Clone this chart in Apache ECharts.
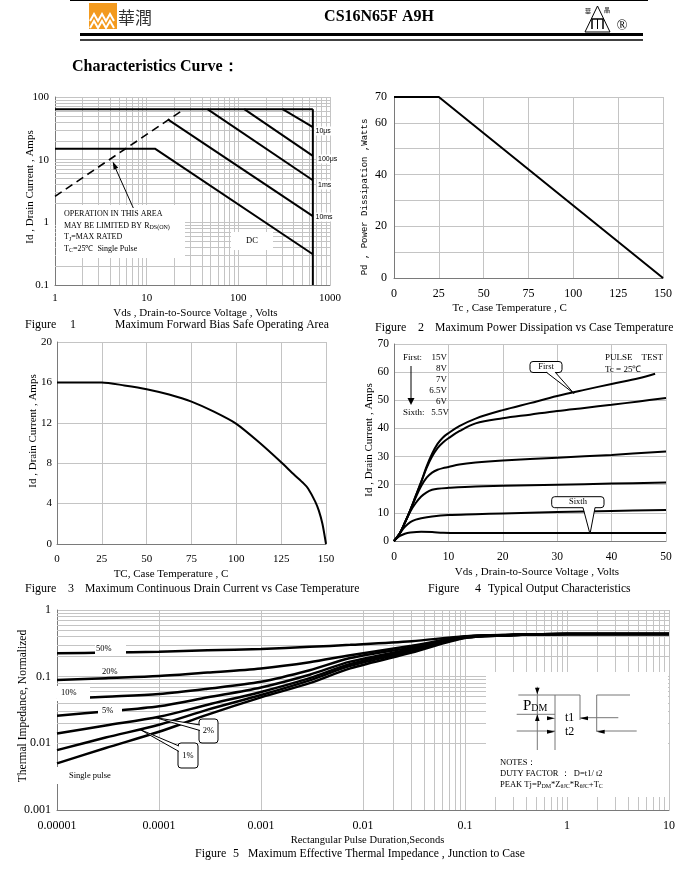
<!DOCTYPE html>
<html><head><meta charset="utf-8">
<script src="https://cdn.jsdelivr.net/npm/echarts@6/dist/echarts.min.js"></script>
<style>html,body{margin:0;padding:0;background:#fff}#c{width:700px;height:873px}</style>
</head><body><div id="c"></div><script>
// ---------- Figure 1 : Safe operating area ----------
const soaVdsLabels = ['1','10','100','1000'];
const soaIdLabels = ['0.1','1','10','100'];
const soaPulseLimit = [[1,64],[650,64]];
const soaVoltageLimit = [[650,64],[650,0.1]];
const soaRdsOn = [[1,2.6],[25.7,64]];
const soaDC = [[1,15],[12.3,15],[650,0.31]];
const soa10ms = [[17,44],[650,1.26]];
const soa1ms = [[46,64],[650,4.7]];
const soa100us = [[116,64],[650,11.5]];
const soa10us = [[304,64],[650,33]];
// ---------- Figure 2 : Power dissipation ----------
const pdTemp = [0,25,150];
const pdWatts = [70,70,0];
const pdWattLabels = [0,20,40,60,70];
// ---------- Figure 3 : Continuous drain current ----------
const idTemp = [0,25,37.5,50,62.5,75,87.5,100,112.5,125,132,137.5,140,144,146,148,150];
const idAmps = [16,16,15.7,15.33,14.8,14.1,13.1,11.9,10.1,8.1,6.9,6.0,5.5,4.2,3.3,2.0,0];
// ---------- Figure 4 : Output characteristics ----------
const oc15V = [[0,0],[1,2.5],[2,6.5],[3,11],[4,16],[5,21],[6,26.5],[7,31],[8,34.5],[9,36.8],[10,38.3],[12,40.8],[15,43.5],[20,46.5],[25,49],[30,51.5],[35,53.7],[40,55.8],[45,57.8],[48,59.4]];
const oc8V = [[0,0],[1,2.5],[2,6.5],[3,11],[4,16],[5,21],[6,26],[7,30],[8,33],[9,35],[10,36.5],[12,39],[15,41.8],[20,43.6],[25,44.9],[30,46.2],[35,47.3],[40,48.4],[45,49.6],[50,50.8]];
const oc7V = [[0,0],[1,2.5],[2,6.5],[3,11],[4,15.5],[5,19.5],[6,22.5],[7,24.3],[8,25.3],[9,25.9],[10,26.3],[12,27.2],[15,27.9],[20,28.6],[30,29.6],[40,30.6],[50,31.8]];
const oc6p5V = [[0,0],[1,2.5],[2,6.5],[3,10.5],[4,13.5],[5,15.8],[6,17.3],[7,18.2],[8,18.6],[10,18.9],[15,19.4],[20,19.6],[30,20],[40,20.4],[50,20.8]];
const oc6V = [[0,0],[1,2.5],[2,5],[3,6.7],[4,7.6],[5,8.1],[7,8.7],[10,9.2],[15,9.5],[20,9.8],[30,10.3],[40,10.7],[50,11]];
const oc5p5V = [[0,0],[1,1.7],[2,2.6],[3,3.0],[5,3.3],[7,3.2],[9,2.9],[12,2.8],[20,2.8],[50,2.8]];
// ---------- Figure 5 : Transient thermal impedance ----------
const zthTimeLabels = ['0.00001','0.0001','0.001','0.01','0.1','1','10'];
const zthLabels = ['0.001','0.01','0.1','1'];
const zthTime = [1e-5,3e-5,1e-4,3e-4,1e-3,3e-3,7.5e-3,3e-2,0.1,0.3,1,10];
const zth50 = [0.224,0.23,0.237,0.248,0.26,0.28,0.30,0.34,0.405,0.425,0.435,0.435];
const zth20 = [0.089,0.095,0.102,0.115,0.133,0.165,0.21,0.29,0.40,0.425,0.435,0.435];
const zth10 = [0.046,0.05,0.055,0.066,0.084,0.125,0.19,0.275,0.395,0.42,0.435,0.435];
const zth5 = [0.026,0.03,0.036,0.049,0.069,0.107,0.168,0.26,0.39,0.42,0.435,0.435];
const zth2 = [0.014,0.0185,0.025,0.038,0.059,0.095,0.155,0.25,0.385,0.42,0.435,0.435];
const zth1 = [0.0079,0.0122,0.019,0.032,0.053,0.088,0.145,0.24,0.385,0.42,0.435,0.435];
const zthSingle = [0.005,0.0085,0.0149,0.027,0.049,0.08,0.133,0.23,0.38,0.42,0.435,0.435];

// ---------- helpers ----------
const SERIF = '"Liberation Serif", "Times New Roman", serif';
const GRID_C = '#c4c4c4';
function decadeLines(lo, hi){ const o=[]; for(let e=lo;e<hi;e++) for(let m=2;m<=9;m++) o.push(+(m*Math.pow(10,e)).toPrecision(3)); return o; }
function logFmt(labels, minExp){ return v => labels[Math.round(Math.log10(v)) - minExp] || ''; }
function ax(extra, lab){
  return Object.assign({
    axisLine:{show:true,onZero:false,lineStyle:{color:'#7a7a7a',width:1}},
    axisTick:{show:false},
    splitLine:{show:true,lineStyle:{color:GRID_C,width:1}},
    axisLabel:Object.assign({color:'#000',fontFamily:SERIF,fontSize:12},lab||{})
  }, extra);
}
function minorGrid(xs, ys){
  return {silent:true,symbol:'none',z:1,animation:false,label:{show:false},emphasis:{disabled:true},
    lineStyle:{color:GRID_C,width:1,type:'solid'},
    data:[...xs.map(v=>({xAxis:v})),...ys.map(v=>({yAxis:v}))]};
}
function ln(name, gi, data, extra){
  return Object.assign({type:'line',name,xAxisIndex:gi,yAxisIndex:gi,data,showSymbol:false,symbol:'none',
    silent:true,animation:false,z:3,lineStyle:{color:'#000',width:2}}, extra||{});
}

// ---------- graphic helpers ----------
const G = [];
function T(x,y,text,o){ o=o||{}; const al=o.align||'left';
  G.push({type:'text',x,y,rotation:o.rot||0,z:o.z||102,silent:true,
    style:Object.assign({text,fill:o.fill||'#000',font:o.font||('12px '+SERIF),align:al,textAlign:al,verticalAlign:'middle',textVerticalAlign:'middle'},o.style||{})}); }
function L(pts,o){ o=o||{}; G.push({type:'polyline',z:o.z||101,silent:true,shape:{points:pts},style:{stroke:o.c||'#000',lineWidth:o.w||1,fill:null,lineDash:o.dash||null}}); }
function R(x,y,w,h,o){ o=o||{}; G.push({type:'rect',z:o.z||99,silent:true,shape:{x,y,width:w,height:h,r:o.r||0},style:{fill:o.fill||'#fff',stroke:o.stroke||null,lineWidth:o.w||1}}); }
function P(pts,o){ o=o||{}; G.push({type:'polygon',z:o.z||101,silent:true,shape:{points:pts},style:{fill:o.fill||'#000',stroke:o.stroke||null,lineWidth:o.w||1}}); }
function arrowHead(x1,y1,x2,y2,len,half,o){ const dx=x2-x1,dy=y2-y1,d=Math.hypot(dx,dy),ux=dx/d,uy=dy/d,bx=x2-ux*len,by=y2-uy*len;
  P([[x2,y2],[bx-uy*half,by+ux*half],[bx+uy*half,by-ux*half]],o); }
function caption(y,x0,num,x1,x2,rest){
  const f='12px '+SERIF; T(x0,y,'Figure',{font:f}); T(x1,y,num,{font:f}); T(x2,y,rest,{font:'11.7px '+SERIF});
}
const SUB = {s:{fontSize:6,fontFamily:SERIF,verticalAlign:'bottom',padding:[4,0,0,0]}};

// header
L([[70,0.5],[648,0.5]],{w:1});
R(89,3,28,26,{fill:'#F39A1E',z:100});
L([[90,21],[94,14],[98,21],[102,14],[106,21],[110,14],[114,21]],{c:'#fff',w:2});
L([[90,28],[94,21],[98,28],[102,21],[106,28],[110,21],[114,28]],{c:'#fff',w:2});
T(118,18,'華潤',{font:'17px "Noto Sans CJK TC"',fill:'#333'});
T(379,17,'CS16N65F A9H',{font:'bold 16px '+SERIF,align:'center'});
L([[585,32],[597.5,6],[610,32],[585,32]],{w:1});
L([[592,29],[592,19],[603,19],[603,29]],{w:1.5});
L([[597.5,19],[597.5,29]],{w:1});
T(588,11,'華',{font:'6px "Noto Sans CJK TC"',align:'center'});
T(607,10,'晶',{font:'6px "Noto Sans CJK TC"',align:'center'});
T(622,26,'®',{font:'14px '+SERIF,align:'center'});
R(80,33,563,3,{fill:'#000',z:100});
R(80,39.3,563,1.5,{fill:'#000',z:100});
T(72,67,'Characteristics Curve：',{font:'bold 16px '+SERIF});

// figure 1 annotations
R(56,205,129,53);
T(64,213.5,'OPERATION IN THIS AREA',{font:'8px '+SERIF});
T(64,225.5,'MAY BE LIMITED BY R{s|DS(ON)}',{font:'8px '+SERIF,style:{rich:SUB}});
T(64,237,'T{s|J}=MAX RATED',{font:'8px '+SERIF,style:{rich:SUB}});
T(64,248.5,'T{s|C}=25℃  Single Pulse',{font:'8px '+SERIF,style:{rich:SUB}});
L([[133.3,208],[114,165]],{w:1});
arrowHead(133.3,208,112.7,161.5,8,2.5);
R(231,232,42,18);
T(252,241,'DC',{font:'8.5px '+SERIF,align:'center'});
const soaLbl = [['10μs',314.5,131],['100μs',317,159],['1ms',317,185],['10ms',314.5,217]];
soaLbl.forEach(a=>T(a[1],a[2],a[0],{font:'7px "Liberation Sans"',style:{backgroundColor:'#fff',padding:[1,1]}}));
T(195.5,313,'Vds , Drain-to-Source Voltage , Volts',{align:'center',font:'11px '+SERIF});
T(30,187,'Id , Drain Current , Amps',{align:'center',rot:Math.PI/2,font:'11px '+SERIF});
caption(324.5,25,'1',70,115,'Maximum Forward Bias Safe Operating Area');
// figure 2
T(509.7,308,'Tc , Case Temperature , C',{align:'center',font:'11px '+SERIF});
T(365,197,'Pd , Power Dissipation ,Watts',{align:'center',rot:Math.PI/2,font:'9px "Liberation Mono"'});
caption(327.5,375,'2',418,435,'Maximum Power Dissipation vs Case Temperature');
// figure 3
T(171,574.5,'TC, Case Temperature , C',{align:'center',font:'11px '+SERIF});
T(33,431,'Id , Drain Current , Amps',{align:'center',rot:Math.PI/2,font:'11px '+SERIF});
caption(589,25,'3',68,85,'Maximum Continuous Drain Current vs Case Temperature');
// figure 4
T(537,572.5,'Vds , Drain-to-Source Voltage , Volts',{align:'center',font:'11px '+SERIF});
T(369,440,'Id , Drain Current , Amps',{align:'center',rot:Math.PI/2,font:'11px '+SERIF});
caption(588.5,428,'4',475,488,'Typical Output Characteristics');
const F9 = '9px '+SERIF;
T(403,358,'First:',{font:F9}); T(447,358,'15V',{font:F9,align:'right'});
T(447,369,'8V',{font:F9,align:'right'});
T(447,380,'7V',{font:F9,align:'right'});
T(447,391,'6.5V',{font:F9,align:'right'});
T(447,402,'6V',{font:F9,align:'right'});
T(403,412.5,'Sixth:',{font:F9}); T(449,412.5,'5.5V',{font:F9,align:'right'});
L([[411,366],[411,399]],{w:1});
arrowHead(411,366,411,405,7,3.5);
T(605,358,'PULSE    TEST',{font:F9});
T(605,369.5,'Tc = 25℃',{font:F9});
R(530,361.5,32,11,{r:3,stroke:'#000',z:103});
P([[546,371.5],[555,371.5],[574,393.5]],{fill:'#fff',z:104});
L([[546,372],[574,393.5],[555,372]],{z:104});
T(546,367,'First',{font:'8.5px '+SERIF,align:'center',z:105});
R(551.7,496.7,52.3,11,{r:3,stroke:'#000',z:103});
P([[583,507],[595,507],[590,534]],{fill:'#fff',z:104});
L([[583,507.7],[590,534],[595,507.7]],{z:104});
T(578,502,'Sixth',{font:'8.5px '+SERIF,align:'center',z:105});
// figure 5
const F85 = '8.5px '+SERIF;
R(95,642.5,31,12); T(96,648.3,'50%',{font:F85});
R(100,665,20,11); T(102,671.7,'20%',{font:F85});
R(57,686,33,15); T(61,692.7,'10%',{font:F85});
R(98,704,24,14); T(102,711,'5%',{font:F85});
R(56,767,81,17); T(69,776,'Single pulse',{font:F85});
R(199,719,19,24,{r:3,stroke:'#000',z:103});
P([[155,717.5],[200,725],[200,730.5]],{fill:'#fff',z:104});
L([[200,725],[155,717.5],[200,730.5]],{z:104});
T(208.5,731,'2%',{font:F85,align:'center',z:105});
R(178,743,20,25,{r:3,stroke:'#000',z:103});
P([[140,729.5],[179,746],[179,751.5]],{fill:'#fff',z:104});
L([[179,746],[140,729.5],[179,751.5]],{z:104});
T(188,756,'1%',{font:F85,align:'center',z:105});
// PDM diagram
R(486,672,182,125);
const GC = {c:'#777',w:1};
L([[537.3,686.7],[537.3,750]],GC);
L([[518.3,695],[580,695],[580,720]],GC);
L([[555,695],[555,750]],GC);
L([[516.7,714.3],[555,714.3]],GC);
L([[580,717.7],[618.3,717.7]],GC);
L([[596.7,731.7],[596.7,695],[630,695]],GC);
L([[516.7,731],[555,731]],GC);
L([[596.7,731],[636.7,731]],GC);
P([[535,687.7],[539.6,687.7],[537.3,694.3]]);
P([[535,721],[539.6,721],[537.3,714.3]]);
P([[547,716.3],[547,720.3],[555,718.3]]);
P([[588,716.3],[588,720.3],[580,718.3]]);
P([[547,729.7],[547,733.7],[555,731.7]]);
P([[604.7,729.7],[604.7,733.7],[596.7,731.7]]);
T(523,706,'P{d|DM}',{font:'15px '+SERIF,style:{rich:{d:{fontSize:10,fontFamily:SERIF,verticalAlign:'bottom'}}}});
T(565,718.3,'t1',{font:'12px '+SERIF});
T(565,731.7,'t2',{font:'12px '+SERIF});
T(500,762.7,'NOTES：',{font:F85});
T(500,774,'DUTY FACTOR ：  D=t1/ t2',{font:F85});
T(500,784.5,'PEAK Tj=P{s|DM}*Z{s|θJC}*R{s|θJC}+T{s|C}',{font:F85,style:{rich:SUB}});
T(367.5,840,'Rectangular Pulse Duration,Seconds',{align:'center',font:'10.5px '+SERIF});
T(23,706,'Thermal Impedance, Normalized',{align:'center',rot:Math.PI/2,font:'11.5px '+SERIF});
caption(854,195,'5',233,248,'Maximum Effective Thermal Impedance , Junction to Case');

// ---------- chart ----------
const chart = echarts.init(document.getElementById('c'), null, {renderer:'canvas',width:700,height:873});
const zthData = arr => zthTime.map((t,i)=>[t,arr[i]]);
const SM = {smooth:0.35};
const Z5 = {smooth:0.3,lineStyle:{color:'#000',width:2.5}};
const option = {
  backgroundColor:'#fff',
  animation:false,
  grid:[
    {left:55,top:97,width:275,height:188,outerBoundsMode:'none'},
    {left:394,top:97,width:269,height:181,outerBoundsMode:'none'},
    {left:57,top:342,width:269,height:202,outerBoundsMode:'none'},
    {left:394,top:344,width:272,height:197,outerBoundsMode:'none'},
    {left:57,top:610,width:612,height:200,outerBoundsMode:'none'}
  ],
  xAxis:[
    ax({gridIndex:0,type:'log',logBase:10,min:1,max:1000,interval:1},{fontSize:11,margin:8,formatter:logFmt(soaVdsLabels,0)}),
    ax({gridIndex:1,type:'value',min:0,max:150,interval:25},{margin:10}),
    ax({gridIndex:2,type:'value',min:0,max:150,interval:25},{fontSize:11,margin:10}),
    ax({gridIndex:3,type:'value',min:0,max:50,interval:10},{fontSize:11.5,margin:10}),
    ax({gridIndex:4,type:'log',logBase:10,min:1e-5,max:10,interval:1},{margin:10,formatter:logFmt(zthTimeLabels,-5)})
  ],
  yAxis:[
    ax({gridIndex:0,type:'log',logBase:10,min:0.1,max:100,interval:1},{fontSize:11,margin:6,formatter:logFmt(soaIdLabels,-1)}),
    ax({gridIndex:1,type:'value',min:0,max:70,interval:10},{margin:7,formatter:v=>pdWattLabels.includes(v)?String(v):''}),
    ax({gridIndex:2,type:'value',min:0,max:20,interval:4},{fontSize:11,margin:5}),
    ax({gridIndex:3,type:'value',min:0,max:70,interval:10},{fontSize:11.5,margin:5}),
    ax({gridIndex:4,type:'log',logBase:10,min:0.001,max:1,interval:1},{margin:6,formatter:logFmt(zthLabels,-3)})
  ],
  graphic:{elements:G},
  series:[
    ln('Pulse limit',0,soaPulseLimit,{markLine:minorGrid(decadeLines(0,3),decadeLines(-1,2))}),
    ln('Vds limit',0,soaVoltageLimit),
    ln('RDS(on) limit',0,soaRdsOn,{lineStyle:{color:'#000',width:1.6,type:[8,5]}}),
    ln('DC',0,soaDC),
    ln('10ms',0,soa10ms),
    ln('1ms',0,soa1ms),
    ln('100us',0,soa100us),
    ln('10us',0,soa10us),
    ln('Pd',1,pdTemp.map((t,i)=>[t,pdWatts[i]])),
    ln('Id',2,idTemp.map((t,i)=>[t,idAmps[i]]),{smooth:0.25}),
    ln('15V',3,oc15V,SM),
    ln('8V',3,oc8V,SM),
    ln('7V',3,oc7V,SM),
    ln('6.5V',3,oc6p5V,SM),
    ln('6V',3,oc6V,SM),
    ln('5.5V',3,oc5p5V,SM),
    ln('D=0.5',4,zthData(zth50),Object.assign({markLine:minorGrid(decadeLines(-5,1),decadeLines(-3,0))},Z5)),
    ln('D=0.2',4,zthData(zth20),Z5),
    ln('D=0.1',4,zthData(zth10),Z5),
    ln('D=0.05',4,zthData(zth5),Z5),
    ln('D=0.02',4,zthData(zth2),Z5),
    ln('D=0.01',4,zthData(zth1),Z5),
    ln('Single pulse',4,zthData(zthSingle),Z5)
  ]
};
chart.setOption(option);
</script></body></html>
